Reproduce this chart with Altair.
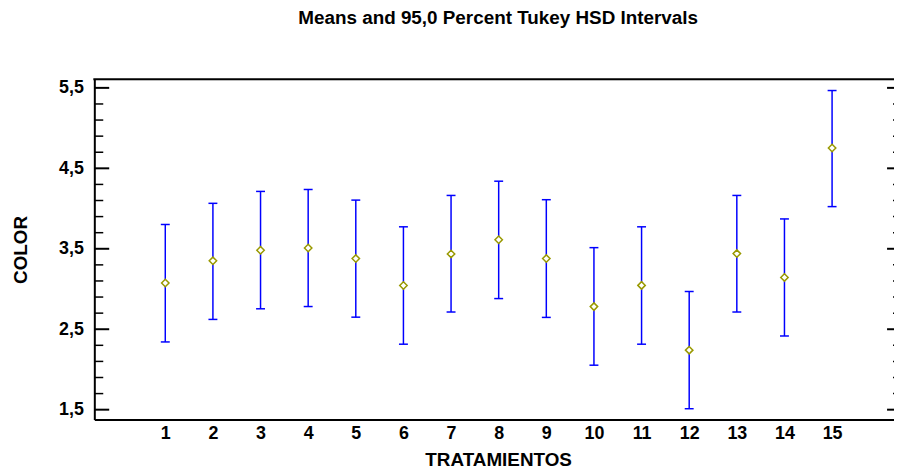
import altair as alt
import pandas as pd

# ---- data ----
tratamientos = list(range(1, 16))
medias = [3.075, 3.350, 3.481, 3.510, 3.378, 3.043, 3.436, 3.612, 3.378, 2.781, 3.045, 2.240, 3.440, 3.144, 4.752]
limite_inferior = [2.342, 2.622, 2.754, 2.782, 2.650, 2.314, 2.714, 2.881, 2.647, 2.053, 2.314, 1.512, 2.714, 2.416, 4.024]
limite_superior = [3.802, 4.065, 4.213, 4.237, 4.105, 3.773, 4.163, 4.340, 4.110, 3.514, 3.773, 2.969, 4.163, 3.871, 5.467]
ticks_mayores = [1.5, 2.5, 3.5, 4.5, 5.5]
ticks_menores = [1.7, 1.9, 2.1, 2.3, 2.7, 2.9, 3.1, 3.3, 3.7, 3.9, 4.1, 4.3, 4.7, 4.9, 5.1, 5.3]

TITULO = "Means and 95,0 Percent Tukey HSD Intervals"
TITULO_X = "TRATAMIENTOS"
TITULO_Y = "COLOR"

# ---- layout / style ----
W, H = 806, 343
XDOM = [-0.49, 16.30]
YDOM = [1.377, 5.607]
FONT = "Liberation Sans"
BLUE = "#0000ff"
OLIVE = "#999900"

df = pd.DataFrame({
    "trat": tratamientos,
    "media": medias,
    "inf": limite_inferior,
    "sup": limite_superior,
})
major_df = pd.DataFrame({"v": ticks_mayores})
minor_df = pd.DataFrame({"v": ticks_menores})

xscale = alt.Scale(domain=XDOM, nice=False, zero=False)
yscale = alt.Scale(domain=YDOM, nice=False, zero=False)

xaxis = alt.Axis(
    values=tratamientos, format="d", title=TITULO_X,
    titleFont=FONT, titleFontSize=19, titleFontWeight="bold", titleColor="black",
    titlePadding=8, titleX=407,
    labelFont=FONT, labelFontSize=18, labelFontWeight="bold", labelColor="black",
    labelPadding=5, labelFlush=False, labelOverlap=False,
    ticks=False, tickSize=0, domain=True, domainColor="black", domainWidth=2, grid=False,
)
yaxis = alt.Axis(
    values=ticks_mayores, title=TITULO_Y,
    labelExpr="replace(format(datum.value, '.1f'), '.', ',')",
    titleFont=FONT, titleFontSize=19, titleFontWeight="bold", titleColor="black",
    titlePadding=28,
    labelFont=FONT, labelFontSize=18, labelFontWeight="bold", labelColor="black",
    labelPadding=11, labelFlush=False, labelOverlap=False,
    ticks=False, tickSize=0, domain=True, domainColor="black", domainWidth=2, grid=False,
)

base = alt.Chart(df)

bars = base.mark_rule(color=BLUE, strokeWidth=1.5).encode(
    x=alt.X("trat:Q", scale=xscale, axis=xaxis, title=TITULO_X),
    y=alt.Y("inf:Q", scale=yscale, axis=yaxis, title=TITULO_Y),
    y2="sup:Q",
)
cap_lo = base.mark_tick(orient="horizontal", size=9, thickness=1.5, color=BLUE, opacity=1).encode(
    x=alt.X("trat:Q", title=TITULO_X), y=alt.Y("inf:Q", title=TITULO_Y)
)
cap_hi = base.mark_tick(orient="horizontal", size=9, thickness=1.5, color=BLUE, opacity=1).encode(
    x=alt.X("trat:Q", title=TITULO_X), y=alt.Y("sup:Q", title=TITULO_Y)
)
pts = base.mark_point(shape="diamond", size=56, filled=True, fill="white",
                      stroke=OLIVE, strokeWidth=1.5, opacity=1).encode(
    x=alt.X("trat:Q", title=TITULO_X), y=alt.Y("media:Q", title=TITULO_Y)
)

# frame ticks (inward) on left and right, and top border
left_major = alt.Chart(major_df).mark_rule(color="black", strokeWidth=2).encode(
    y=alt.Y("v:Q", title=TITULO_Y), x=alt.value(0), x2=alt.value(15))
left_minor = alt.Chart(minor_df).mark_rule(color="black", strokeWidth=1.5).encode(
    y=alt.Y("v:Q", title=TITULO_Y), x=alt.value(0), x2=alt.value(9))
right_major = alt.Chart(major_df).mark_rule(color="black", strokeWidth=2).encode(
    y=alt.Y("v:Q", title=TITULO_Y), x=alt.value(W - 7), x2=alt.value(W))
right_minor = alt.Chart(minor_df).mark_rule(color="black", strokeWidth=1.5).encode(
    y=alt.Y("v:Q", title=TITULO_Y), x=alt.value(W - 1), x2=alt.value(W))
top_border = alt.Chart(alt.Data(values=[{"k": 0}])).mark_rule(color="black", strokeWidth=2).encode(
    x=alt.value(-1), x2=alt.value(W), y=alt.value(0))

chart = alt.layer(
    bars, cap_lo, cap_hi, pts,
    left_major, left_minor, right_major, right_minor, top_border,
).properties(
    width=W, height=H,
    autosize=alt.AutoSizeParams(type="none"),
    padding={"left": 87, "top": 70, "right": 0, "bottom": 50},
    title=alt.TitleParams(
        TITULO, font=FONT, fontSize=19, fontWeight="bold", color="black",
        anchor="middle", frame="group", baseline="alphabetic", offset=36, dx=4,
    ),
).configure_view(stroke="transparent").configure(background="white")

chart.save("out.html", embed_options={"renderer": "svg", "actions": False})
